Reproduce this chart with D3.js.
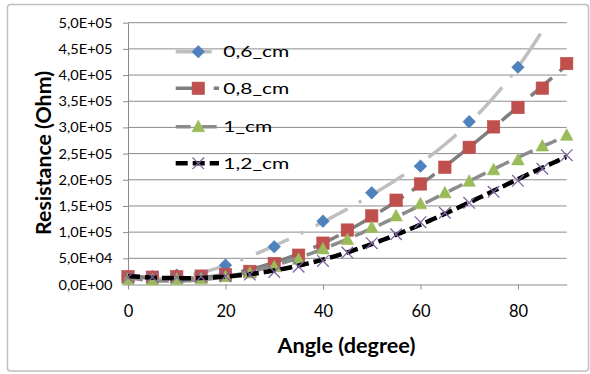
<!DOCTYPE html>
<html>
<head>
<meta charset="utf-8">
<script src="https://cdn.jsdelivr.net/npm/d3@7"></script>
<style>
  html, body { margin: 0; padding: 0; background: #fff; }
  svg { display: block; }
  text { font-family: Lato, "Open Sans", "Liberation Sans", sans-serif; fill: #000; }
</style>
</head>
<body>
<svg id="chart" width="590" height="374"></svg>
<script>
// Measured resistance versus tilt angle, one series per probe spacing.
const angles = [0, 5, 10, 15, 20, 25, 30, 35, 40, 45, 50, 55, 60, 65, 70, 75, 80, 85, 90];
const angles06 = [0, 5, 10, 15, 20, 30, 40, 50, 60, 70, 80];

const r06 = [1.5e4, 1.5e4, 1.8e4, 1.6e4, 3.7e4, 7.2e4, 1.21e5, 1.75e5, 2.26e5, 3.11e5, 4.15e5];
const r08 = [1.5e4, 1.4e4, 1.5e4, 1.6e4, 1.9e4, 2.5e4, 4.0e4, 5.6e4, 7.9e4, 1.04e5, 1.31e5,
             1.61e5, 1.92e5, 2.24e5, 2.62e5, 3.01e5, 3.38e5, 3.75e5, 4.22e5];
const r10 = [1.0e4, 0.9e4, 1.0e4, 1.1e4, 1.5e4, 2.2e4, 3.4e4, 4.8e4, 6.8e4, 8.6e4, 1.09e5,
             1.31e5, 1.54e5, 1.75e5, 1.97e5, 2.19e5, 2.38e5, 2.645e5, 2.85e5];
const r12 = [1.4e4, 1.4e4, 1.4e4, 1.5e4, 1.6e4, 1.9e4, 2.4e4, 3.4e4, 4.5e4, 6.1e4, 7.9e4,
             9.6e4, 1.19e5, 1.37e5, 1.56e5, 1.77e5, 1.98e5, 2.21e5, 2.47e5];

const seriesNames = ["0,6_cm", "0,8_cm", "1_cm", "1,2_cm"];
const xTicks = [0, 20, 40, 60, 80];
const yTicks = [0, 5e4, 1e5, 1.5e5, 2e5, 2.5e5, 3e5, 3.5e5, 4e5, 4.5e5, 5e5];

// Styles for each series: marker and its polynomial trend line.
const styles = [
  { marker: "diamond",  fill: "#4F81BD", line: "#BFBFBF", width: 3.5, dash: "36,13,3,14", legendW: 66 },
  { marker: "square",   fill: "#C0504D", line: "#7F7F7F", width: 3.5, dash: "28,10",      legendW: 66 },
  { marker: "triangle", fill: "#9BBB59", line: "#8C8C8C", width: 3.5, dash: "15,11",      legendW: 49 },
  { marker: "cross",    fill: "#8064A2", line: "#000000", width: 4.5, dash: "12,5",       legendW: 66 }
];

const series = [
  { name: seriesNames[0], xs: angles06, ys: r06 },
  { name: seriesNames[1], xs: angles,   ys: r08 },
  { name: seriesNames[2], xs: angles,   ys: r10 },
  { name: seriesNames[3], xs: angles,   ys: r12 }
];

const svg = d3.select("#chart");

// Outer chart frame
svg.append("rect")
  .attr("x", 7.5).attr("y", 4.5).attr("width", 581).attr("height", 366.5)
  .attr("rx", 3).attr("fill", "#fff").attr("stroke", "#BFBFBF").attr("stroke-width", 1.5);

const plot = { left: 128, right: 566.7, top: 22.7, bottom: 284.5 };
const x = d3.scaleLinear().domain([0, 90]).range([plot.left, plot.right]);
const y = d3.scaleLinear().domain([0, 5e5]).range([plot.bottom, plot.top]);

const gridColor = "#8C8C8C";

// Horizontal gridlines
svg.append("g").selectAll("line").data(yTicks.slice(1)).join("line")
  .attr("x1", plot.left).attr("x2", plot.right)
  .attr("y1", d => y(d)).attr("y2", d => y(d))
  .attr("stroke", gridColor).attr("stroke-width", 1);

// Scientific labels in the "5,0E+05" style
const sci = v => {
  const s = d3.format(".1e")(v);
  const [mant, exp] = s.split("e");
  const sign = exp[0];
  const digits = exp.slice(1).padStart(2, "0");
  return mant.replace(".", ",") + "E" + sign + digits;
};

// Y axis
const yAxis = svg.append("g")
  .attr("transform", `translate(${plot.left},0)`)
  .call(d3.axisLeft(y).tickValues(yTicks).tickFormat(sci).tickSize(5).tickSizeOuter(0));
yAxis.select(".domain").attr("stroke", gridColor);
yAxis.selectAll(".tick line").attr("stroke", gridColor);
yAxis.selectAll(".tick text")
  .attr("x", -15.5).attr("dy", "0.36em")
  .attr("font-size", 12.5).attr("font-family", "Lato, sans-serif")
  .attr("textLength", 54).attr("lengthAdjust", "spacingAndGlyphs");

// X axis
const xAxis = svg.append("g")
  .attr("transform", `translate(0,${plot.bottom})`)
  .call(d3.axisBottom(x).tickValues(xTicks).tickFormat(d3.format("d")).tickSize(5).tickSizeOuter(0));
xAxis.select(".domain").attr("stroke", gridColor);
xAxis.selectAll(".tick line").attr("stroke", gridColor);
xAxis.selectAll(".tick text")
  .attr("y", 21).attr("dy", "0.71em")
  .attr("font-size", 16.5).attr("font-family", "Lato, sans-serif");

// Axis titles
svg.append("text")
  .attr("x", 346.4).attr("y", 353)
  .attr("text-anchor", "middle").attr("font-weight", "bold").attr("font-size", 21)
  .attr("textLength", 138).attr("lengthAdjust", "spacingAndGlyphs")
  .text("Angle (degree)");

svg.append("text")
  .attr("transform", "translate(51,153) rotate(-90)")
  .attr("text-anchor", "middle").attr("font-weight", "bold").attr("font-size", 21)
  .attr("textLength", 164).attr("lengthAdjust", "spacingAndGlyphs")
  .text("Resistance (Ohm)");

// Least-squares polynomial trend line, evaluated over the full axis
function polyfit(xs, ys, deg) {
  const n = deg + 1;
  const s = 90; // normalise x for conditioning
  const A = Array.from({ length: n }, () => new Array(n + 1).fill(0));
  xs.forEach((xv, k) => {
    const t = xv / s;
    for (let i = 0; i < n; i++) {
      for (let j = 0; j < n; j++) A[i][j] += Math.pow(t, i + j);
      A[i][n] += ys[k] * Math.pow(t, i);
    }
  });
  for (let c = 0; c < n; c++) {
    let p = c;
    for (let r = c + 1; r < n; r++) if (Math.abs(A[r][c]) > Math.abs(A[p][c])) p = r;
    [A[c], A[p]] = [A[p], A[c]];
    for (let r = 0; r < n; r++) {
      if (r === c) continue;
      const f = A[r][c] / A[c][c];
      for (let k = c; k <= n; k++) A[r][k] -= f * A[c][k];
    }
  }
  const coef = A.map((row, i) => row[n] / row[i]);
  return xv => coef.reduce((acc, cf, i) => acc + cf * Math.pow(xv / s, i), 0);
}

svg.append("defs").append("clipPath").attr("id", "plotClip")
  .append("rect")
  .attr("x", plot.left).attr("y", plot.top)
  .attr("width", plot.right - plot.left).attr("height", plot.bottom - plot.top);

const line = d3.line().x(d => x(d[0])).y(d => y(d[1]));
const sampleX = d3.range(0, 90.001, 0.5);

// Marker shapes
function drawMarker(g, kind, color, cx, cy) {
  if (kind === "diamond") {
    g.append("path").attr("d", `M${cx},${cy - 6.3}L${cx + 6.3},${cy}L${cx},${cy + 6.3}L${cx - 6.3},${cy}Z`)
      .attr("fill", color).attr("stroke", "#4A7EBB").attr("stroke-width", 0.6);
  } else if (kind === "square") {
    g.append("rect").attr("x", cx - 6.2).attr("y", cy - 6.2).attr("width", 12.4).attr("height", 12.4)
      .attr("fill", color).attr("stroke", "#BE4B48").attr("stroke-width", 0.6);
  } else if (kind === "triangle") {
    g.append("path").attr("d", `M${cx},${cy - 6.5}L${cx + 6.3},${cy + 5}L${cx - 6.3},${cy + 5}Z`)
      .attr("fill", color).attr("stroke", "#98B954").attr("stroke-width", 0.6);
  } else {
    const r = 5.8;
    g.append("path").attr("d", `M${cx - r},${cy - r}L${cx + r},${cy + r}M${cx - r},${cy + r}L${cx + r},${cy - r}`)
      .attr("stroke", color).attr("stroke-width", 1.3).attr("fill", "none");
  }
}

const marks = svg.append("g");
series.forEach((s, i) => {
  const st = styles[i];
  const f = polyfit(s.xs, s.ys, 4);
  marks.append("path")
    .datum(sampleX.map(a => [a, f(a)]))
    .attr("clip-path", "url(#plotClip)")
    .attr("d", line)
    .attr("fill", "none")
    .attr("stroke", st.line).attr("stroke-width", st.width)
    .attr("stroke-dasharray", st.dash);
  const mg = marks.append("g");
  s.xs.forEach((a, k) => drawMarker(mg, st.marker, st.fill, x(a), y(s.ys[k])));
});

// Legend inside the plot area
const legendRows = [51.7, 88.3, 126.7, 163.3];
const legend = svg.append("g");
series.forEach((s, i) => {
  const st = styles[i];
  const cy = legendRows[i];
  legend.append("line")
    .attr("x1", 175.7).attr("x2", 219).attr("y1", cy).attr("y2", cy)
    .attr("stroke", st.line).attr("stroke-width", st.width)
    .attr("stroke-dasharray", st.dash);
  drawMarker(legend, st.marker, st.fill, 198.3, cy);
  legend.append("text")
    .attr("x", 223.3).attr("y", cy).attr("dy", "0.36em")
    .attr("font-size", 16)
    .attr("textLength", st.legendW).attr("lengthAdjust", "spacingAndGlyphs")
    .text(s.name);
});
</script>
</body>
</html>
